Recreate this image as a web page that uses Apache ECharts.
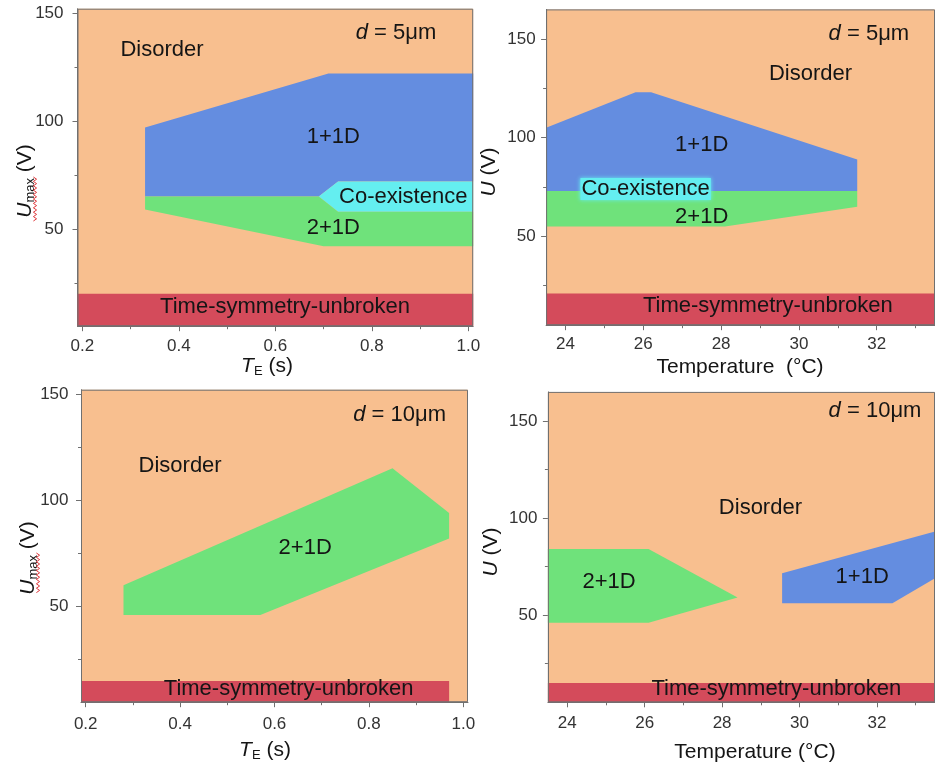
<!DOCTYPE html>
<html>
<head>
<meta charset="utf-8">
<script src="https://cdn.jsdelivr.net/npm/echarts@6/dist/echarts.min.js"></script>
<style>
  html, body { margin: 0; padding: 0; background: #ffffff; }
  #chart { width: 935px; height: 767px; }
</style>
</head>
<body>
<div id="chart"></div>
<script>
// ---- tick values ----
const TE_MAJOR = [0.2, 0.4, 0.6, 0.8, 1.0];
const TE_MINOR = [0.3, 0.5, 0.7, 0.9];
const T_MAJOR = [24, 26, 28, 30, 32];
const T_MINOR = [25, 27, 29, 31, 33];
const U_MAJOR = [50, 100, 150];
const U_MINOR = [25, 75, 125];

// ---- phase boundaries, d = 5 µm, period T_E (s) vs U_max (V) ----
const A_UNBROKEN = [[0.19, 5], [1.01, 5], [1.01, 20], [0.19, 20]];
const A_1P1D = [[0.33, 97], [0.71, 122], [1.01, 122], [1.01, 72], [0.73, 72], [0.69, 65], [0.33, 65]];
const A_COEX = [[0.69, 65], [0.73, 72], [1.01, 72], [1.01, 58], [0.73, 58]];
const A_2P1D = [[0.33, 65], [0.69, 65], [0.73, 58], [1.01, 58], [1.01, 42], [0.70, 42], [0.33, 59]];
const A_TEXT = ['Disorder', '{i|d} = 5μm', '1+1D', 'Co-existence', '2+1D', 'Time-symmetry-unbroken'];
const A_TEXT_AT = [[0.365, 133], [0.85, 141], [0.72, 92.6], [0.865, 65], [0.72, 50.4], [0.62, 13.9]];

// ---- phase boundaries, d = 5 µm, temperature (°C) vs U (V) ----
const B_UNBROKEN = [[23.5, 5], [33.5, 5], [33.5, 21], [23.5, 21]];
const B_1P1D = [[23.5, 105], [25.8, 123], [26.2, 123], [31.5, 89], [31.5, 73], [23.5, 73]];
const B_2P1D = [[23.5, 73], [31.5, 73], [31.5, 65], [28.1, 55], [23.5, 55]];
const B_TEXT = ['Disorder', '{i|d} = 5μm', '1+1D', '2+1D', 'Time-symmetry-unbroken'];
const B_TEXT_AT = [[30.3, 132.3], [31.8, 152.5], [27.5, 96.3], [27.5, 59.8], [29.2, 14.7]];
const B_BOXED_TEXT = ['Co-existence'];
const B_BOXED_AT = [[26.06, 74]];

// ---- phase boundaries, d = 10 µm, period T_E (s) vs U_max (V) ----
const C_UNBROKEN = [[0.19, 5], [0.97, 5], [0.97, 15], [0.19, 15]];
const C_2P1D = [[0.28, 60], [0.85, 115], [0.97, 94], [0.97, 82], [0.57, 46], [0.28, 46]];
const C_TEXT = ['Disorder', '{i|d} = 10μm', '2+1D', 'Time-symmetry-unbroken'];
const C_TEXT_AT = [[0.40, 116], [0.865, 140], [0.665, 77.5], [0.63, 11.3]];

// ---- phase boundaries, d = 10 µm, temperature (°C) vs U (V) ----
const D_UNBROKEN = [[23.5, 5], [33.5, 5], [33.5, 15], [23.5, 15]];
const D_2P1D = [[23.5, 84], [26.1, 84], [28.4, 59], [26.1, 46], [23.5, 46]];
const D_1P1D = [[29.55, 71.5], [33.5, 93], [33.5, 69], [32.4, 56], [29.55, 56]];
const D_TEXT = ['Disorder', '{i|d} = 10μm', '2+1D', '1+1D', 'Time-symmetry-unbroken'];
const D_TEXT_AT = [[28.99, 105.4], [31.95, 155], [25.08, 67.2], [31.62, 69.5], [29.4, 12]];

// ---- styling ----
const FONT = "'Liberation Sans', Arial, sans-serif";
const ORANGE = '#f8bf8f';
const BLUE = '#648de0';
const GREEN = '#6fe27b';
const CYAN = '#64eef0';
const RED = '#d44b5b';
const AXIS_GREY = '#707070';
const INK = '#151515';

const fmtTE = v => v.toFixed(1);
const fmtT = v => String(v);

const panels = [
  { grid: { left: 77.5, top: 8.7, width: 395.7, height: 317.5 },
    xr: [0.19, 1.01], yr: [5, 152], xMajor: TE_MAJOR, xMinor: TE_MINOR, xFmt: fmtTE,
    xMargin: 12, yMargin: 14,
    regions: [[A_UNBROKEN, RED], [A_1P1D, BLUE], [A_COEX, CYAN], [A_2P1D, GREEN]],
    text: A_TEXT, textAt: A_TEXT_AT },
  { grid: { left: 546.1, top: 9.4, width: 393, height: 315.8 },
    xr: [23.5, 33.5], yr: [5, 165], xMajor: T_MAJOR, xMinor: T_MINOR, xFmt: fmtT,
    xMargin: 11, yMargin: 10.5,
    regions: [[B_UNBROKEN, RED], [B_1P1D, BLUE], [B_2P1D, GREEN]],
    text: B_TEXT, textAt: B_TEXT_AT, boxed: B_BOXED_TEXT, boxedAt: B_BOXED_AT },
  { grid: { left: 81, top: 389.7, width: 387, height: 312.5 },
    xr: [0.19, 1.01], yr: [5, 152], xMajor: TE_MAJOR, xMinor: TE_MINOR, xFmt: fmtTE,
    xMargin: 14, yMargin: 12.5,
    regions: [[C_UNBROKEN, RED], [C_2P1D, GREEN]],
    text: C_TEXT, textAt: C_TEXT_AT },
  { grid: { left: 547.9, top: 391.9, width: 387.5, height: 310.4 },
    xr: [23.5, 33.5], yr: [5, 165], xMajor: T_MAJOR, xMinor: T_MINOR, xFmt: fmtT,
    xMargin: 13, yMargin: 10.5,
    regions: [[D_UNBROKEN, RED], [D_2P1D, GREEN], [D_1P1D, BLUE]],
    text: D_TEXT, textAt: D_TEXT_AT }
];

const grids = [], xAxes = [], yAxes = [], series = [];

panels.forEach((p, gi) => {
  grids.push(Object.assign({ show: true, backgroundColor: ORANGE, borderWidth: 0 }, p.grid));

  const tickStyle = { color: AXIS_GREY, width: 1 };
  // main axes: line, major ticks, labels (indices 2*gi)
  xAxes.push({
    type: 'value', gridIndex: gi, min: p.xr[0], max: p.xr[1],
    axisLine: { show: true, onZero: false, lineStyle: tickStyle },
    axisTick: { show: true, length: 5, customValues: p.xMajor, lineStyle: tickStyle },
    axisLabel: { customValues: p.xMajor, formatter: p.xFmt, fontSize: 17, color: '#333',
                 fontFamily: FONT, margin: p.xMargin },
    splitLine: { show: false }
  });
  // overlay axes carrying the minor ticks only (indices 2*gi+1)
  xAxes.push({
    type: 'value', gridIndex: gi, min: p.xr[0], max: p.xr[1], position: 'bottom',
    axisLine: { show: false },
    axisTick: { show: true, length: 3, customValues: p.xMinor, lineStyle: tickStyle },
    axisLabel: { show: false }, splitLine: { show: false }
  });
  yAxes.push({
    type: 'value', gridIndex: gi, min: p.yr[0], max: p.yr[1],
    axisLine: { show: true, onZero: false, lineStyle: tickStyle },
    axisTick: { show: true, length: 5, customValues: U_MAJOR, lineStyle: tickStyle },
    axisLabel: { customValues: U_MAJOR, fontSize: 17, color: '#333', fontFamily: FONT, margin: p.yMargin },
    splitLine: { show: false }
  });
  yAxes.push({
    type: 'value', gridIndex: gi, min: p.yr[0], max: p.yr[1], position: 'left',
    axisLine: { show: false },
    axisTick: { show: true, length: 3, customValues: U_MINOR, lineStyle: tickStyle },
    axisLabel: { show: false }, splitLine: { show: false }
  });

  const ax = 2 * gi;
  // filled phase regions
  p.regions.forEach(([verts, color]) => {
    series.push({
      type: 'custom', xAxisIndex: ax, yAxisIndex: ax, clip: true, silent: true, z: 2,
      data: [verts[0]],
      renderItem: (params, api) => ({
        type: 'polygon',
        shape: { points: verts.map(v => api.coord(v)) },
        style: { fill: color }
      })
    });
  });

  // frame around the plotting area
  series.push({
    type: 'custom', xAxisIndex: ax, yAxisIndex: ax, silent: true, z: 4,
    data: [[p.xr[0], p.yr[0]]],
    renderItem: (params) => {
      const cs = params.coordSys;
      return { type: 'rect', shape: { x: cs.x + 0.5, y: cs.y + 0.5, width: cs.width - 1, height: cs.height - 1 },
               style: { fill: 'none', stroke: AXIS_GREY, lineWidth: 1 } };
    }
  });

  // region names
  series.push({
    type: 'custom', xAxisIndex: ax, yAxisIndex: ax, silent: true, z: 5,
    data: p.textAt.map((c, i) => [c[0], c[1], i]),
    renderItem: (params, api) => {
      const pt = api.coord([api.value(0), api.value(1)]);
      return {
        type: 'text', x: pt[0], y: pt[1],
        style: {
          text: p.text[params.dataIndex], fill: INK, fontSize: 22, fontFamily: FONT,
          align: 'center', verticalAlign: 'middle',
          rich: { i: { fontStyle: 'italic', fontSize: 22, fontFamily: FONT, fill: INK } }
        }
      };
    }
  });

  if (p.boxed) {
    series.push({
      type: 'custom', xAxisIndex: ax, yAxisIndex: ax, silent: true, z: 6,
      data: p.boxedAt.map((c, i) => [c[0], c[1], i]),
      renderItem: (params, api) => {
        const pt = api.coord([api.value(0), api.value(1)]);
        return {
          type: 'text', x: pt[0], y: pt[1],
          style: {
            text: p.boxed[params.dataIndex], fill: INK, fontSize: 22, fontFamily: FONT,
            align: 'center', verticalAlign: 'middle',
            backgroundColor: CYAN, padding: [0, 1, 0, 1],
            shadowColor: CYAN, shadowBlur: 4
          }
        };
      }
    });
  }
});

// axis titles
const titleStyle = (text) => ({
  text, fill: INK, fontSize: 21, fontFamily: FONT, align: 'center', verticalAlign: 'middle',
  rich: {
    i: { fontStyle: 'italic', fontSize: 21, fontFamily: FONT, fill: INK },
    sub: { fontSize: 13, fontFamily: FONT, fill: INK, padding: [10, 0, 0, 0] },
    n: { fontSize: 21, fontFamily: FONT, fill: INK }
  }
});

// wavy proof-reading underline under the U_max title
function squiggle(xc, y0, y1) {
  const pts = [];
  let k = 0;
  for (let y = y0; y <= y1; y += 2.2, k++) pts.push([xc + (k % 2 ? 1.6 : -1.6), y]);
  return { type: 'polyline', shape: { points: pts }, style: { stroke: '#e0393c', lineWidth: 1, fill: null }, z: 10 };
}

const graphic = [
  { type: 'text', x: 267, y: 366, style: titleStyle('{i|T}{sub|E}{n| (s)}') },
  { type: 'text', x: 740, y: 367, style: titleStyle('Temperature  (°C)') },
  { type: 'text', x: 265, y: 750, style: titleStyle('{i|T}{sub|E}{n| (s)}') },
  { type: 'text', x: 755, y: 752, style: titleStyle('Temperature (°C)') },
  { type: 'text', x: 25, y: 181, rotation: Math.PI / 2, style: titleStyle('{i|U}{sub|max}{n| (V)}') },
  { type: 'text', x: 489, y: 172, rotation: Math.PI / 2, style: titleStyle('{i|U}{n| (V)}') },
  { type: 'text', x: 28, y: 558, rotation: Math.PI / 2, style: titleStyle('{i|U}{sub|max}{n| (V)}') },
  { type: 'text', x: 491, y: 552, rotation: Math.PI / 2, style: titleStyle('{i|U}{n| (V)}') },
  squiggle(35, 177, 221),
  squiggle(38, 553, 594)
];

const chart = echarts.init(document.getElementById('chart'), null, { renderer: 'canvas' });
chart.setOption({
  animation: false,
  backgroundColor: '#ffffff',
  grid: grids,
  xAxis: xAxes,
  yAxis: yAxes,
  series,
  graphic
});
</script>
</body>
</html>
